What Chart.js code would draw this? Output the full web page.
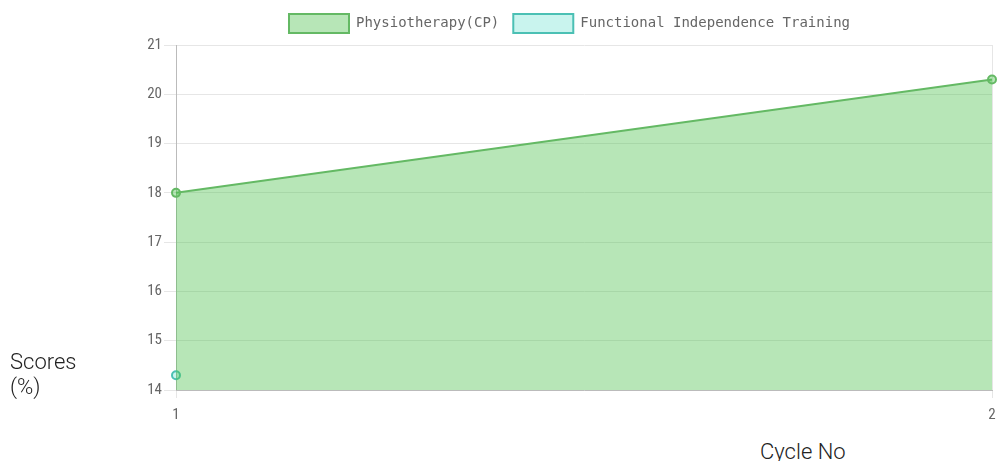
<!DOCTYPE html>
<html><head><meta charset="utf-8">
<script src="https://cdn.jsdelivr.net/npm/chart.js@4/dist/chart.umd.min.js"></script>
<style>
html,body{margin:0;padding:0;background:#fff;width:998px;height:461px;overflow:hidden;}
#c{position:absolute;left:0;top:0;}
.lbl{position:absolute;font-family:Roboto,sans-serif;font-weight:300;color:#222;font-size:22px;}
#ylab{left:10px;top:349px;width:75px;line-height:25px;}
#xlab{left:760px;top:439px;}
</style></head><body>
<canvas id="c" width="998" height="434"></canvas>
<div class="lbl" id="ylab">Scores (%)</div>
<div class="lbl" id="xlab">Cycle No</div>
<script>
const categories = ['1', '2'];
const physiotherapy = [18, 20.3];
const functionalIndependence = [14.3, null];
const seriesNames = ['Physiotherapy(CP)', 'Functional Independence Training'];

const LEGEND_EXTRA = 2;
const legendGap = {
  id: 'legendGap',
  beforeLayout(chart) {
    const lg = chart.legend;
    if (lg && !lg._patched) {
      const orig = lg.fit;
      lg.fit = function () { orig.call(this); this.height += LEGEND_EXTRA; };
      lg._patched = true;
    }
  }
};
const tickFont = {family: "'Liberation Sans Narrow', 'Roboto Condensed', Roboto, sans-serif", size: 15};

new Chart(document.getElementById('c'), {
  type: 'line',
  data: {
    labels: categories,
    datasets: [
      {label: seriesNames[0], data: physiotherapy, fill: 'origin',
       backgroundColor: 'rgba(75,192,75,0.4)', borderColor: 'rgb(100,185,100)',
       borderWidth: 2, pointRadius: 4, pointBorderWidth: 2,
       pointBackgroundColor: 'rgba(75,192,75,0.4)', pointBorderColor: 'rgb(100,185,100)', tension: 0},
      {label: seriesNames[1], data: functionalIndependence, fill: 'origin',
       backgroundColor: 'rgba(75,220,200,0.3)', borderColor: 'rgb(75,192,180)',
       borderWidth: 2, pointRadius: 4, pointBorderWidth: 2,
       pointBackgroundColor: 'rgba(75,220,200,0.3)', pointBorderColor: 'rgb(75,192,180)', tension: 0}
    ]
  },
  plugins: [legendGap],
  options: {
    responsive: false, animation: false,
    layout: {padding: {left: 145, top: 0, right: 4, bottom: 2}},
    plugins: {
      legend: {position: 'top', labels: {boxWidth: 60, boxHeight: 19, color: '#666',
        font: {family: 'DejaVu Sans Mono', size: 14}, padding: 14}},
      tooltip: {enabled: false}
    },
    scales: {
      x: {grid: {color: '#e6e6e6', tickLength: 8}, border: {color: '#bbb'},
          afterFit(s) { s.paddingRight = 0; s.paddingLeft = 0; },
          ticks: {color: '#666', font: tickFont, padding: 8}},
      y: {min: 14, max: 21, grid: {color: '#e6e6e6', tickLength: 12}, border: {color: '#bbb'},
          afterFit(s) { s.width = 31; },
          ticks: {stepSize: 1, color: '#666', font: tickFont, padding: 2}}
    }
  }
});
</script>
</body></html>
